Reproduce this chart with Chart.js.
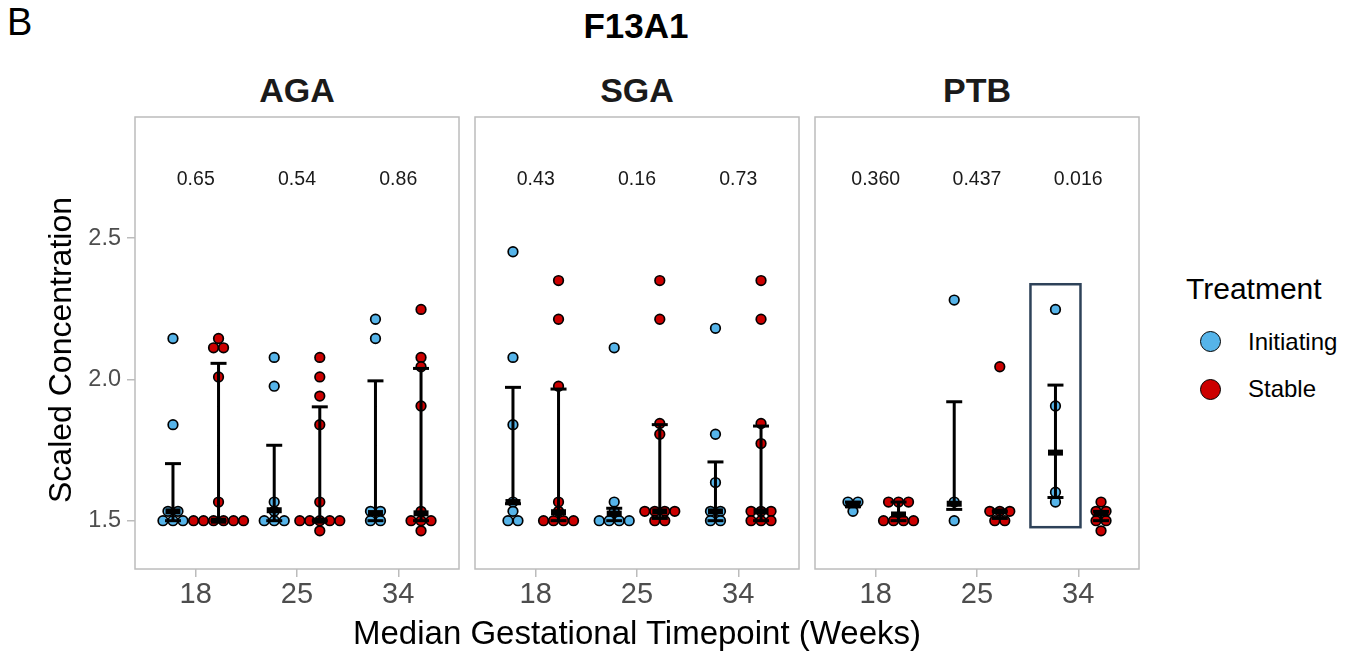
<!DOCTYPE html>
<html>
<head>
<meta charset="utf-8">
<title>F13A1</title>
<script src="https://cdn.jsdelivr.net/npm/chart.js@4.4.1/dist/chart.umd.min.js"></script>
<style>
  body { margin: 0; background: #fff; font-family: "Liberation Sans", Arial, sans-serif; }
  #page { position: relative; width: 1359px; height: 665px; overflow: hidden; }
  #page canvas { position: absolute; top: 0; }
  .txt { position: absolute; white-space: nowrap; color: #000; }
  .mid { text-align: center; }
  .strip { top: 69.5px; width: 324px; font-size: 34px; font-weight: bold; line-height: 40px; color: #1a1a1a; }
  .key { position: absolute; width: 21px; height: 21px; box-sizing: border-box; border: 1.6px solid #000; border-radius: 50%; left: 1199.5px; }
  .keylbl { left: 1248px; font-size: 24px; line-height: 30px; }
</style>
</head>
<body>
<div id="page">
  <div class="txt" style="left:7px;top:2px;font-size:38px;line-height:40px;">B</div>
  <div class="txt mid" style="left:536px;top:6px;width:200px;font-size:35px;font-weight:bold;line-height:40px;">F13A1</div>

  <div class="txt mid strip" style="left:135px;">AGA</div>
  <div class="txt mid strip" style="left:475px;">SGA</div>
  <div class="txt mid strip" style="left:815px;">PTB</div>

  <canvas id="panelAGA" width="461" height="665" style="left:0px"></canvas>
  <canvas id="panelSGA" width="328" height="665" style="left:473px"></canvas>
  <canvas id="panelPTB" width="328" height="665" style="left:813px"></canvas>

  <div class="txt mid" style="left:-140px;top:330px;width:400px;font-size:32px;line-height:40px;transform:rotate(-90deg);">Scaled Concentration</div>
  <div class="txt mid" style="left:337px;top:613px;width:600px;font-size:33px;line-height:40px;">Median Gestational Timepoint (Weeks)</div>

  <div class="txt" style="left:1186px;top:271px;font-size:30px;line-height:36px;">Treatment</div>
  <span class="key" style="top:331px;background:#56B4E9"></span>
  <div class="txt keylbl" style="top:327px;">Initiating</div>
  <span class="key" style="top:379px;background:#CC0000"></span>
  <div class="txt keylbl" style="top:374px;">Stable</div>
</div>

<script>
const fontFamily = '"Liberation Sans", Arial, sans-serif';
Chart.defaults.font.family = fontFamily;

// axis categories and ticks
const timepoints = ['18', '25', '34'];
const yTicks = [1.5, 2.0, 2.5];

// scaled concentration of each sample, per timepoint (18, 25, 34)
const agaInitiating = [
  [2.145, 1.84, 1.533, 1.533, 1.5, 1.5, 1.5],
  [2.078, 1.976, 1.566, 1.533, 1.5, 1.5, 1.5],
  [2.213, 2.145, 1.533, 1.533, 1.5, 1.5]
];
const agaStable = [
  [2.145, 2.112, 2.112, 2.009, 1.566, 1.5, 1.5, 1.5, 1.5, 1.5, 1.5],
  [2.078, 2.009, 1.941, 1.84, 1.566, 1.5, 1.5, 1.5, 1.5, 1.5, 1.464],
  [2.248, 2.078, 2.045, 1.906, 1.533, 1.5, 1.5, 1.5, 1.464]
];
const sgaInitiating = [
  [2.452, 2.078, 1.84, 1.566, 1.533, 1.5, 1.5],
  [2.112, 1.566, 1.533, 1.5, 1.5, 1.5, 1.5],
  [2.181, 1.806, 1.635, 1.533, 1.533, 1.5, 1.5]
];
const sgaStable = [
  [2.35, 2.213, 1.976, 1.566, 1.533, 1.5, 1.5, 1.5, 1.5],
  [2.35, 2.213, 1.844, 1.806, 1.533, 1.533, 1.533, 1.533, 1.5, 1.5],
  [2.35, 2.213, 1.844, 1.773, 1.533, 1.533, 1.533, 1.5, 1.5, 1.5]
];
const ptbInitiating = [
  [1.566, 1.566, 1.533],
  [2.281, 1.566, 1.5],
  [2.248, 1.906, 1.601, 1.566]
];
const ptbStable = [
  [1.566, 1.566, 1.566, 1.5, 1.5, 1.5, 1.5],
  [2.045, 1.533, 1.533, 1.533, 1.5, 1.5],
  [1.566, 1.533, 1.533, 1.5, 1.5, 1.464]
];

// [lower quartile, median, upper quartile] per timepoint
const agaInitiatingIqr = [[1.5, 1.533, 1.702], [1.5, 1.537, 1.767], [1.5, 1.527, 1.995]];
const agaStableIqr = [[1.5, 1.5, 2.057], [1.5, 1.5, 1.903], [1.5, 1.526, 2.039]];
const sgaInitiatingIqr = [[1.56, 1.566, 1.972], [1.5, 1.525, 1.544], [1.5, 1.533, 1.708]];
const sgaStableIqr = [[1.5, 1.53, 1.966], [1.508, 1.533, 1.84], [1.5, 1.533, 1.835]];
const ptbInitiatingIqr = [[1.55, 1.554, 1.566], [1.54, 1.56, 1.921], [1.582, 1.741, 1.98]];
const ptbStableIqr = [[1.5, 1.522, 1.566], [1.508, 1.533, 1.533], [1.5, 1.525, 1.533]];

// p values printed above each timepoint
const agaP = ['0.65', '0.54', '0.86'];
const sgaP = ['0.43', '0.16', '0.73'];
const ptbP = ['0.360', '0.437', '0.016'];
const pLabelY = 2.706;

// highlighted group in PTB (34 weeks, Initiating), in data units
const highlight = { cat: 2, lo: 1.477, hi: 2.337, half: 0.247 };

const dodge = 0.225;      // treatment offset from the timepoint
const dotStep = 0.0987;   // one dot width in x units
const blue = '#56B4E9';
const red = '#CC0000';

// spread equal values side by side, centred on the group position
function swarm(values, center) {
  const counts = {};
  values.forEach(v => { const k = v.toFixed(3); counts[k] = (counts[k] || 0) + 1; });
  const seen = {};
  return values.map(v => {
    const k = v.toFixed(3);
    seen[k] = seen[k] === undefined ? 0 : seen[k] + 1;
    return { x: center + (seen[k] - (counts[k] - 1) / 2) * dotStep, y: v };
  });
}

function buildDatasets(initVals, stableVals, initIqr, stableIqr) {
  const groups = [
    { label: 'Initiating', vals: initVals, iqr: initIqr, shift: -dodge, fill: blue },
    { label: 'Stable', vals: stableVals, iqr: stableIqr, shift: dodge, fill: red }
  ];
  const sets = [];
  groups.forEach(g => {
    let dots = [];
    g.vals.forEach((vals, i) => { dots = dots.concat(swarm(vals, i + g.shift)); });
    sets.push({
      label: g.label, data: dots, order: 3,
      backgroundColor: g.fill, borderColor: '#000',
      pointRadius: 4.8, pointBorderWidth: 1.7
    });
  });
  const stems = [], caps = [], mids = [];
  groups.forEach(g => g.iqr.forEach((s, i) => {
    const x = i + g.shift;
    stems.push({ x: x, y: s[0] }, { x: x, y: s[2] }, { x: x, y: null });
    caps.push({ x: x, y: s[0] }, { x: x, y: s[2] });
    mids.push({ x: x, y: s[1] });
  }));
  sets.push({ data: stems, showLine: true, spanGaps: false, borderColor: '#000', borderWidth: 3, pointRadius: 0, order: 2 });
  sets.push({ data: caps, pointStyle: 'line', pointRadius: 8, pointBorderWidth: 3, borderColor: '#000', order: 1 });
  sets.push({ data: mids, pointStyle: 'line', pointRadius: 7.5, pointBorderWidth: 6, borderColor: '#000', order: 0 });
  return sets;
}

// grey frame round each panel, p values and the highlight box
const panelDecor = {
  id: 'panelDecor',
  afterDatasetsDraw(chart, args, opts) {
    const { ctx, chartArea: a, scales: { x, y } } = chart;
    ctx.save();
    ctx.strokeStyle = '#bcbcbc';
    ctx.lineWidth = 1.5;
    ctx.strokeRect(a.left, a.top, a.right - a.left, a.bottom - a.top);

    ctx.font = '19.5px ' + fontFamily;
    ctx.fillStyle = '#1a1a1a';
    ctx.textAlign = 'center';
    ctx.textBaseline = 'middle';
    opts.pLabels.forEach((t, i) => ctx.fillText(t, x.getPixelForValue(i), y.getPixelForValue(pLabelY)));

    if (opts.box) {
      const cx = opts.box.cat - dodge;
      const l = x.getPixelForValue(cx - opts.box.half);
      const r = x.getPixelForValue(cx + opts.box.half);
      const t = y.getPixelForValue(opts.box.hi);
      const b = y.getPixelForValue(opts.box.lo);
      ctx.strokeStyle = '#2e4259';
      ctx.lineWidth = 2.5;
      ctx.strokeRect(l, t, r - l, b - t);
    }
    ctx.restore();
  }
};

function makePanel(id, datasets, pLabels, showY, box) {
  new Chart(document.getElementById(id), {
    type: 'scatter',
    data: { datasets: datasets },
    plugins: [panelDecor],
    options: {
      responsive: false,
      animation: false,
      events: [],
      layout: { autoPadding: false, padding: { top: 117, bottom: 46, left: showY ? 0 : 2, right: 2 } },
      plugins: {
        legend: { display: false },
        tooltip: { enabled: false },
        panelDecor: { pLabels: pLabels, box: box }
      },
      scales: {
        x: {
          type: 'linear', min: -0.6, max: 2.6,
          afterBuildTicks: s => { s.ticks = timepoints.map((t, i) => ({ value: i })); },
          afterFit: s => { s.height = 50; s.paddingLeft = 0; s.paddingRight = 0; },
          ticks: {
            callback: (v, i) => timepoints[i],
            font: { size: 29 }, color: '#4d4d4d', padding: 1,
            maxRotation: 0, autoSkip: false
          },
          grid: { drawOnChartArea: false, tickLength: 8, color: '#bcbcbc', lineWidth: 1.5 },
          border: { display: false }
        },
        y: {
          type: 'linear', min: 1.329, max: 2.929,
          display: showY,
          afterBuildTicks: s => { s.ticks = yTicks.map(v => ({ value: v })); },
          afterFit: s => { s.width = showY ? 135 : 0; s.paddingTop = 0; s.paddingBottom = 0; },
          ticks: {
            callback: v => v.toFixed(1),
            font: { size: 23.5 }, color: '#4d4d4d', padding: 6
          },
          grid: { drawOnChartArea: false, tickLength: 8, color: '#bcbcbc', lineWidth: 1.5 },
          border: { display: false }
        }
      }
    }
  });
}

makePanel('panelAGA', buildDatasets(agaInitiating, agaStable, agaInitiatingIqr, agaStableIqr), agaP, true, null);
makePanel('panelSGA', buildDatasets(sgaInitiating, sgaStable, sgaInitiatingIqr, sgaStableIqr), sgaP, false, null);
makePanel('panelPTB', buildDatasets(ptbInitiating, ptbStable, ptbInitiatingIqr, ptbStableIqr), ptbP, false, highlight);
</script>
</body>
</html>
